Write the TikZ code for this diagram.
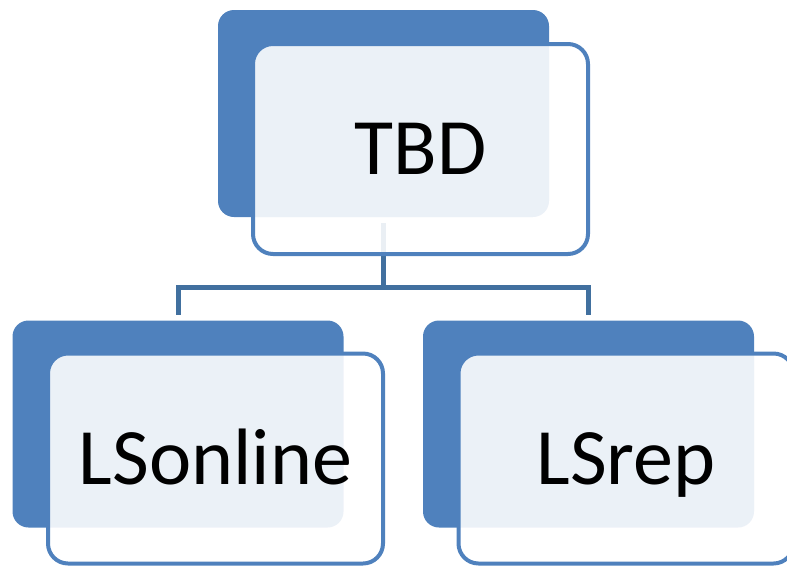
\documentclass[tikz,border=0pt]{standalone}
\usepackage{fontspec}
\setmainfont{Carlito}
\definecolor{accent}{HTML}{4F81BD}
\definecolor{conn}{HTML}{41709F}
\pgfdeclarelayer{background}
\pgfsetlayers{background,main}
\begin{document}
\begin{tikzpicture}[x=1pt,y=-1pt,
  backbox/.style={fill=accent, rounded corners=16pt, minimum width=331pt, minimum height=207pt, inner sep=0pt},
  frontbox/.style={draw=accent, line width=4pt, fill=white, fill opacity=0.89, text opacity=1, rounded corners=20pt, minimum width=335pt, minimum height=210pt, inner sep=0pt, font=\fontsize{80}{96}\selectfont, text height=51pt, text depth=0pt},
  link/.style={draw=conn, line width=5pt}]
\useasboundingbox (0,0) rectangle (787,566);
\clip (0,0) rectangle (787,566);
\node[backbox] (tbdb) at (383.5,113.5) {};
\node[frontbox] (tbd) at (420.5,149) {TBD};
\node[backbox] (lsob) at (178,424) {};
\node[frontbox] (lso) at (215.5,458.5) {LSonline};
\node[backbox] (lsrb) at (588.5,424) {};
\node[frontbox] (lsr) at (626,458.5) {LSrep};
\begin{pgfonlayer}{background}
\draw[link, shorten <=6pt, shorten >=5pt] (tbdb.south) -- ++(0,70) -| (lsob.north);
\draw[link, shorten <=6pt, shorten >=5pt] (tbdb.south) -- ++(0,70) -| (lsrb.north);
\end{pgfonlayer}
\end{tikzpicture}
\end{document}
